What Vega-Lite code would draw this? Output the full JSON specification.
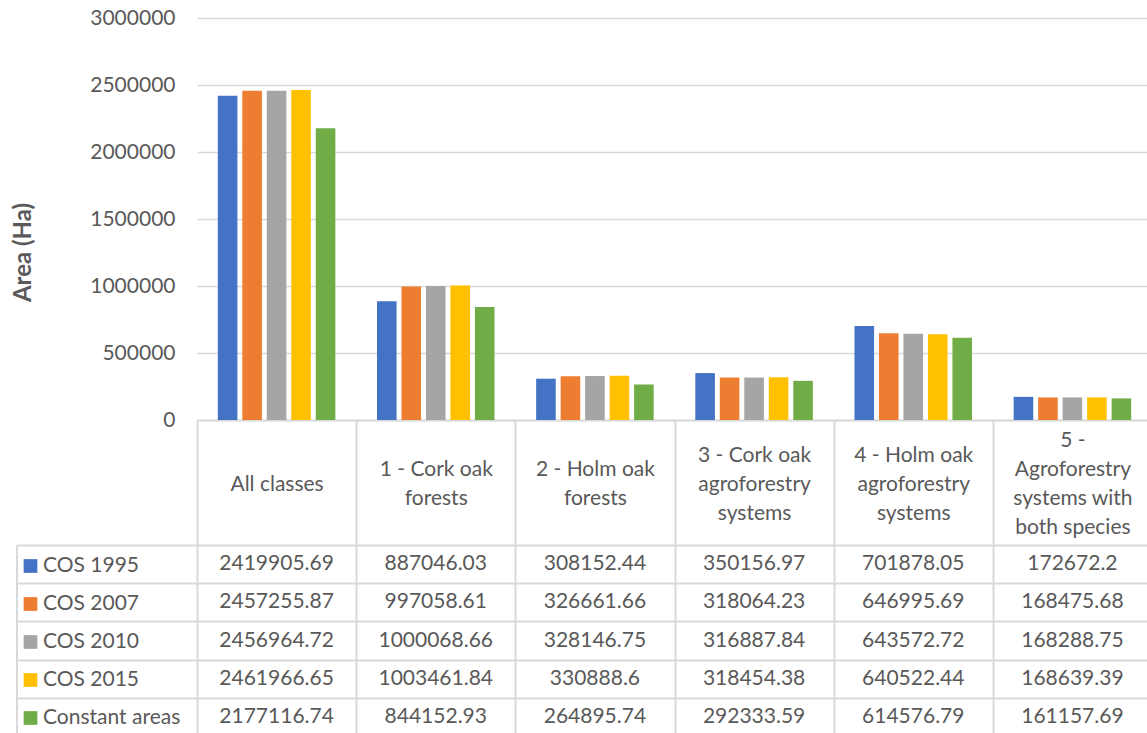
{
  "$schema": "https://vega.github.io/schema/vega-lite/v6.json",
  "autosize": {"type": "pad"},
  "padding": {"left": 11, "top": 7, "right": 0, "bottom": 0},
  "background": "white",
  "config": {"font": "Lato", "view": {"stroke": null}},
  "data": {
    "values": [
      {"class": "All classes", "series": "COS 1995", "value": 2419905.69},
      {"class": "All classes", "series": "COS 2007", "value": 2457255.87},
      {"class": "All classes", "series": "COS 2010", "value": 2456964.72},
      {"class": "All classes", "series": "COS 2015", "value": 2461966.65},
      {"class": "All classes", "series": "Constant areas", "value": 2177116.74},
      {"class": "1 - Cork oak forests", "series": "COS 1995", "value": 887046.03},
      {"class": "1 - Cork oak forests", "series": "COS 2007", "value": 997058.61},
      {"class": "1 - Cork oak forests", "series": "COS 2010", "value": 1000068.66},
      {"class": "1 - Cork oak forests", "series": "COS 2015", "value": 1003461.84},
      {"class": "1 - Cork oak forests", "series": "Constant areas", "value": 844152.93},
      {"class": "2 - Holm oak forests", "series": "COS 1995", "value": 308152.44},
      {"class": "2 - Holm oak forests", "series": "COS 2007", "value": 326661.66},
      {"class": "2 - Holm oak forests", "series": "COS 2010", "value": 328146.75},
      {"class": "2 - Holm oak forests", "series": "COS 2015", "value": 330888.6},
      {"class": "2 - Holm oak forests", "series": "Constant areas", "value": 264895.74},
      {"class": "3 - Cork oak agroforestry systems", "series": "COS 1995", "value": 350156.97},
      {"class": "3 - Cork oak agroforestry systems", "series": "COS 2007", "value": 318064.23},
      {"class": "3 - Cork oak agroforestry systems", "series": "COS 2010", "value": 316887.84},
      {"class": "3 - Cork oak agroforestry systems", "series": "COS 2015", "value": 318454.38},
      {"class": "3 - Cork oak agroforestry systems", "series": "Constant areas", "value": 292333.59},
      {"class": "4 - Holm oak agroforestry systems", "series": "COS 1995", "value": 701878.05},
      {"class": "4 - Holm oak agroforestry systems", "series": "COS 2007", "value": 646995.69},
      {"class": "4 - Holm oak agroforestry systems", "series": "COS 2010", "value": 643572.72},
      {"class": "4 - Holm oak agroforestry systems", "series": "COS 2015", "value": 640522.44},
      {"class": "4 - Holm oak agroforestry systems", "series": "Constant areas", "value": 614576.79},
      {"class": "5 - Agroforestry systems with both species", "series": "COS 1995", "value": 172672.2},
      {"class": "5 - Agroforestry systems with both species", "series": "COS 2007", "value": 168475.68},
      {"class": "5 - Agroforestry systems with both species", "series": "COS 2010", "value": 168288.75},
      {"class": "5 - Agroforestry systems with both species", "series": "COS 2015", "value": 168639.39},
      {"class": "5 - Agroforestry systems with both species", "series": "Constant areas", "value": 161157.69}
    ]
  },
  "bounds": "flush",
  "spacing": 125,
  "vconcat": [
    {
      "width": 955,
      "height": 402,
      "mark": {"type": "bar"},
      "encoding": {
        "x": {
          "field": "class", "type": "nominal",
          "sort": ["All classes", "1 - Cork oak forests", "2 - Holm oak forests", "3 - Cork oak agroforestry systems", "4 - Holm oak agroforestry systems", "5 - Agroforestry systems with both species"],
          "scale": {"paddingInner": 0, "paddingOuter": 0},
          "axis": {
            "title": null, "orient": "bottom", "labelAngle": 0,
            "domain": true, "domainColor": "#D9D9D9", "domainWidth": 2,
            "ticks": true, "tickBand": "extent", "tickSize": 125, "tickColor": "#D9D9D9", "tickWidth": 2,
            "grid": false, "labelFontSize": 21, "labelColor": "#595959", "labelBaseline": "middle",
            "labelLineHeight": 29, "labelLimit": 300, "labelOverlap": false,
            "labelPadding": {
              "condition": [
                {"test": "datum.value == '1 - Cork oak forests' || datum.value == '2 - Holm oak forests'", "value": -75.5},
                {"test": "datum.value == '3 - Cork oak agroforestry systems' || datum.value == '4 - Holm oak agroforestry systems'", "value": -90},
                {"test": "datum.value == '5 - Agroforestry systems with both species'", "value": -104.5}
              ],
              "value": -61
            },
            "labelExpr": "datum.value == '1 - Cork oak forests' ? ['1 - Cork oak', 'forests'] : datum.value == '2 - Holm oak forests' ? ['2 - Holm oak', 'forests'] : datum.value == '3 - Cork oak agroforestry systems' ? ['3 - Cork oak', 'agroforestry', 'systems'] : datum.value == '4 - Holm oak agroforestry systems' ? ['4 - Holm oak', 'agroforestry', 'systems'] : datum.value == '5 - Agroforestry systems with both species' ? ['5 -', 'Agroforestry', 'systems with', 'both species'] : datum.label"
          }
        },
        "xOffset": {
          "field": "series", "type": "nominal",
          "sort": ["COS 1995", "COS 2007", "COS 2010", "COS 2015", "Constant areas"],
          "scale": {"paddingInner": 0.2, "paddingOuter": 0.85}
        },
        "y": {
          "field": "value", "type": "quantitative",
          "scale": {"domain": [0, 3000000], "nice": false},
          "axis": {
            "title": "Area (Ha)", "values": [0, 500000, 1000000, 1500000, 2000000, 2500000, 3000000],
            "format": "d", "domain": false, "ticks": false, "labelPadding": 22,
            "labelFontSize": 21, "labelColor": "#595959",
            "grid": true, "gridColor": "#D9D9D9", "gridWidth": 1.5,
            "titleFontSize": 24, "titleFontWeight": "bold", "titleColor": "#595959",
            "titleX": -173.5, "titleY": 234, "titleBaseline": "middle"
          }
        },
        "color": {
          "field": "series", "type": "nominal",
          "scale": {
            "domain": ["COS 1995", "COS 2007", "COS 2010", "COS 2015", "Constant areas"],
            "range": ["#4472C4", "#ED7D31", "#A5A5A5", "#FFC000", "#70AD47"]
          },
          "legend": {
            "orient": "none", "legendX": -177, "legendY": 537.5, "title": null,
            "symbolType": "square", "symbolSize": 188, "symbolStrokeWidth": 0, "symbolOpacity": 1,
            "labelFontSize": 21, "labelColor": "#595959", "labelOffset": 2,
            "rowPadding": 16, "labelLimit": 300, "padding": 0
          }
        }
      }
    },
    {
      "width": 955,
      "height": 191,
      "mark": {"type": "text", "fontSize": 21, "color": "#595959"},
      "encoding": {
        "x": {
          "field": "class", "type": "nominal",
          "sort": ["All classes", "1 - Cork oak forests", "2 - Holm oak forests", "3 - Cork oak agroforestry systems", "4 - Holm oak agroforestry systems", "5 - Agroforestry systems with both species"],
          "scale": {"paddingInner": 0, "paddingOuter": 0},
          "axis": {
            "orient": "top", "title": null, "labels": false, "ticks": false, "domain": false,
            "grid": true, "tickBand": "extent", "gridColor": "#D9D9D9", "gridWidth": 2
          }
        },
        "y": {
          "field": "series", "type": "nominal",
          "sort": ["COS 1995", "COS 2007", "COS 2010", "COS 2015", "Constant areas"],
          "scale": {"paddingInner": 0, "paddingOuter": 0},
          "axis": {
            "title": null, "labels": false, "offset": 180.5,
            "ticks": true, "tickSize": -180.5, "tickBand": "extent", "tickColor": "#D9D9D9", "tickWidth": 2,
            "domain": true, "domainColor": "#D9D9D9", "domainWidth": 2,
            "grid": true, "gridColor": "#D9D9D9", "gridWidth": 2
          }
        },
        "text": {"field": "value", "type": "nominal"}
      }
    }
  ]
}
